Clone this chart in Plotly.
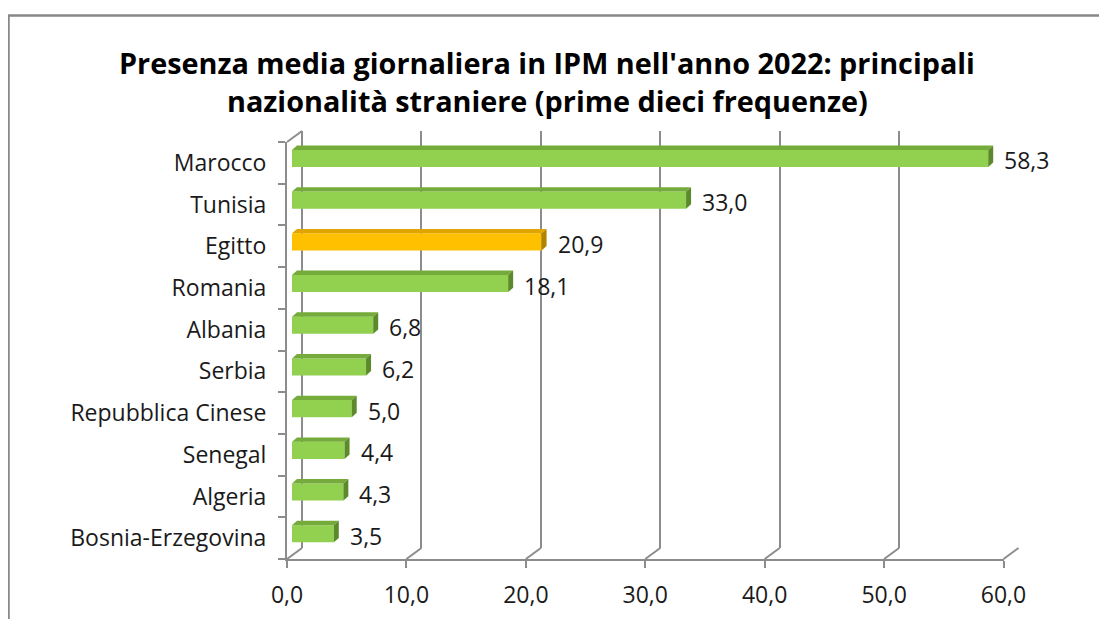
import plotly.graph_objects as go

# data
nazioni = ["Marocco", "Tunisia", "Egitto", "Romania", "Albania", "Serbia",
           "Repubblica Cinese", "Senegal", "Algeria", "Bosnia-Erzegovina"]
presenze = [58.3, 33.0, 20.9, 18.1, 6.8, 6.2, 5.0, 4.4, 4.3, 3.5]
evidenza = "Egitto"
x_ticks = [0, 10, 20, 30, 40, 50, 60]

# the page puts an 8px body margin round the figure, so pixel positions
# below are window coordinates shifted back by that margin
OFF = 8
W, H = 1107, 619
FONT = "Open Sans"
GRID = "#8c8c8c"


def px(x):
    return (x - OFF) / W


def py(y):
    return 1 - (y - OFF) / H


# front frame of the 3d box (pixels) and depth offsets
fx0, fx1, fy0, fy1 = 287, 1003.5, 142, 559
depth_x, depth_y = 15, 11        # back wall offset
bar_dx, bar_dy = 5, 4.4          # bar front face offset
ux = 60 / (fx1 - fx0)            # data units per pixel
uy = 10 / (fy1 - fy0)
bar_w = 0.41

face_cols = {"green": ("#92d050", "#74ab3a", "#5c8a2b"),
             "orange": ("#ffc000", "#e0a500", "#b08300")}

fig = go.Figure()

idx = list(range(len(nazioni)))
front_cols = []
for n in nazioni:
    front_cols.append(face_cols["orange" if n == evidenza else "green"][0])

# empty traces so the back-wall and front-frame subplots get drawn
fig.add_trace(go.Scatter(x=[None], y=[None], mode="markers", xaxis="x", yaxis="y",
                         hoverinfo="skip", showlegend=False))

# bars (front face)
fig.add_trace(go.Bar(x=presenze, y=idx, orientation="h", width=bar_w,
                     marker=dict(color=front_cols, line=dict(width=0)),
                     xaxis="x2", yaxis="y2", hoverinfo="skip", showlegend=False))

# top and side faces for the 3d look
dxu, dyu = bar_dx * ux, bar_dy * uy
for i, (n, v) in enumerate(zip(nazioni, presenze)):
    _, top_c, side_c = face_cols["orange" if n == evidenza else "green"]
    t = i - bar_w / 2
    b = i + bar_w / 2
    fig.add_trace(go.Scatter(x=[0, v, v + dxu, dxu, 0], y=[t, t, t - dyu, t - dyu, t],
                             fill="toself", fillcolor=top_c, mode="lines",
                             line=dict(width=0), xaxis="x2", yaxis="y2",
                             hoverinfo="skip", showlegend=False))
    fig.add_trace(go.Scatter(x=[v, v + dxu, v + dxu, v, v], y=[t, t - dyu, b - dyu, b, t],
                             fill="toself", fillcolor=side_c, mode="lines",
                             line=dict(width=0), xaxis="x2", yaxis="y2",
                             hoverinfo="skip", showlegend=False))

fig.add_trace(go.Scatter(x=[None], y=[None], mode="markers", xaxis="x3", yaxis="y3",
                         hoverinfo="skip", showlegend=False))

# value labels
annotations = []
for i, v in enumerate(presenze):
    annotations.append(dict(x=v, y=i, xref="x2", yref="y2", xanchor="left", yanchor="middle",
                            text=f"{v:.1f}".replace(".", ","), showarrow=False,
                            xshift=14, yshift=-2,
                            font=dict(family=FONT, size=23, color="#1a1a1a")))

# title
annotations.append(dict(x=px(547), y=py(62), xref="paper", yref="paper",
                        xanchor="center", yanchor="middle",
                        text="<b>Presenza media giornaliera in IPM nell'anno 2022: principali</b>",
                        showarrow=False, font=dict(family=FONT, size=28.8, color="#000000")))
annotations.append(dict(x=px(547), y=py(101), xref="paper", yref="paper",
                        xanchor="center", yanchor="middle",
                        text="<b>nazionalità straniere (prime dieci frequenze)</b>",
                        showarrow=False, font=dict(family=FONT, size=28.8, color="#000000")))

# outer border and diagonals joining back wall and front frame
shapes = [dict(type="rect", xref="paper", yref="paper", x0=px(8.5), y0=py(15.5), x1=px(1140), y1=py(680),
               line=dict(color="#888888", width=2.5)),
          dict(type="line", xref="paper", yref="paper", x0=px(fx0), y0=py(fy0),
               x1=px(fx0 + depth_x), y1=py(fy0 - depth_y), line=dict(color=GRID, width=2))]
for tv in x_ticks:
    xf = fx0 + tv / ux
    shapes.append(dict(type="line", xref="paper", yref="paper", x0=px(xf), y0=py(fy1),
                       x1=px(xf + depth_x), y1=py(fy1 - depth_y), line=dict(color=GRID, width=2)))

fig.update_layout(
    width=W, height=H, autosize=False,
    margin=dict(l=0, r=0, t=0, b=0, pad=0),
    paper_bgcolor="white", plot_bgcolor="rgba(0,0,0,0)",
    separators=",.",
    annotations=annotations, shapes=shapes,
    # back wall with gridlines
    xaxis=dict(domain=[px(fx0 + depth_x), px(fx1 + depth_x)], range=[0, 60], anchor="y",
               tickmode="array", tickvals=x_ticks, showgrid=True, gridcolor=GRID, gridwidth=2,
               zeroline=True, zerolinecolor=GRID, zerolinewidth=2, automargin=False,
               showticklabels=False, ticks="", showline=False, fixedrange=True),
    yaxis=dict(domain=[py(fy1 - depth_y), py(fy0 - depth_y)], range=[9.5, -0.5], anchor="x",
               showgrid=False, zeroline=False, showticklabels=False, ticks="", showline=False,
               automargin=False),
    # bars
    xaxis2=dict(domain=[px(fx0 + bar_dx), px(fx1 + bar_dx)], range=[0, 60], anchor="y2",
                visible=False, automargin=False),
    yaxis2=dict(domain=[py(fy1 - bar_dy), py(fy0 - bar_dy)], range=[9.5, -0.5], anchor="x2",
                visible=False, automargin=False),
    # front frame with labels
    xaxis3=dict(domain=[px(fx0), px(fx1)], range=[0, 60], anchor="y3",
                tickmode="array", tickvals=x_ticks, tickformat=".1f", automargin=False,
                showgrid=False, zeroline=False, showline=True, linecolor=GRID, linewidth=2,
                ticks="outside", ticklen=7, tickwidth=2, tickcolor=GRID, ticklabelstandoff=7,
                tickfont=dict(family=FONT, size=23, color="#1a1a1a")),
    yaxis3=dict(domain=[py(fy1), py(fy0)], range=[9.5, -0.5], anchor="x3",
                tickmode="array", tickvals=idx, ticktext=nazioni, automargin=False,
                showgrid=False, zeroline=False, showline=True, linecolor=GRID, linewidth=2,
                ticks="", ticklabelstandoff=14,
                minor=dict(tickmode="array", tickvals=[k - 0.5 for k in range(11)],
                           ticks="outside", ticklen=7, tickwidth=2, tickcolor=GRID),
                tickfont=dict(family=FONT, size=23, color="#1a1a1a")),
)

fig.write_html("out.html")
